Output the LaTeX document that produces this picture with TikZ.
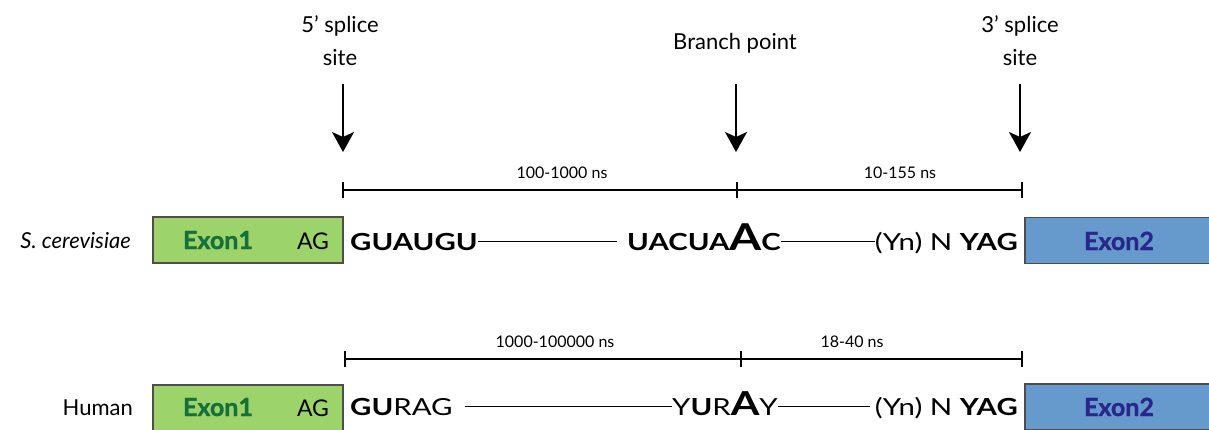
\documentclass[tikz,border=0pt]{standalone}
\usepackage{fontspec}
\setmainfont{Lato}
\newfontfamily\seqfont[FakeStretch=1.25]{Lato}
\newfontfamily\exfont[BoldFeatures={FakeBold=1.2}]{Lato}
\usetikzlibrary{arrows.meta}
\definecolor{exgreen}{HTML}{9DD36B}
\definecolor{exgreentext}{HTML}{16703A}
\definecolor{exblue}{HTML}{6699CC}
\definecolor{exbluetext}{HTML}{2A278A}
\definecolor{boxline}{HTML}{4D4D4D}
\newcommand{\bigA}[1]{{\bfseries\fontsize{#1}{#1}\selectfont A}}
\begin{document}
\begin{tikzpicture}[x=1pt,y=-1pt,
  lbl/.style={inner sep=0pt, font=\fontsize{22}{33}\selectfont, align=center},
  arr/.style={line width=2pt, -{Stealth[length=20pt,width=22pt,inset=5pt]}},
  scl/.style={line width=1.8pt},
  tck/.style={line width=1.8pt},
  dlbl/.style={inner sep=0pt, font=\fontsize{16}{16}\selectfont},
  seq/.style={inner sep=0pt, font=\seqfont\fontsize{23.5}{23.5}\selectfont},
  seqline/.style={line width=1.8pt},
  sp/.style={inner sep=0pt, font=\fontsize{22}{22}\selectfont, anchor=base east},
  exon1box/.style={draw=boxline, line width=1.5pt, fill=exgreen, minimum width=190pt, minimum height=46pt, inner sep=0pt},
  exon2box/.style={draw=boxline, line width=1.5pt, fill=exblue, minimum width=200pt, minimum height=46pt, inner sep=0pt},
  ex1txt/.style={inner sep=0pt, text=exgreentext, font=\exfont\bfseries\fontsize{25}{25}\selectfont, anchor=base},
  ex2txt/.style={inner sep=0pt, text=exbluetext, font=\exfont\bfseries\fontsize{25}{25}\selectfont, anchor=base},
  agtxt/.style={inner sep=0pt, font=\fontsize{23}{23}\selectfont, anchor=base}
]
\useasboundingbox (0,0) rectangle (1209,429);

% top labels and arrows
\node[lbl] (l5) at (340,41) {5’ splice\\site};
\node[lbl] (lbp) at (735,43) {Branch point};
\node[lbl] (l3) at (1020,41) {3’ splice\\site};
\coordinate (a5s) at (343,84);  \coordinate (a5e) at (343,152);
\coordinate (abs) at (736,84);  \coordinate (abe) at (736,152);
\coordinate (a3s) at (1020,84); \coordinate (a3e) at (1020,152);
\draw[arr] (a5s) -- (a5e);
\draw[arr] (abs) -- (abe);
\draw[arr] (a3s) -- (a3e);

% scale row 1
\coordinate (t1a) at (343,190); \coordinate (t1b) at (737,190); \coordinate (t1c) at (1022,190);
\draw[scl] (t1a) -- (t1b) -- (t1c);
\foreach \p in {t1a,t1b,t1c} \draw[tck] (\p) ++(0,-8) -- ++(0,16);
\node[dlbl] (d1) at (562,173) {100-1000 ns};
\node[dlbl] (d2) at (900,173) {10-155 ns};

% row 1
\node[sp] (sc) at (131,248) {\itshape S. cerevisiae};
\node[exon1box] (b1) at (248,240) {};
\node[ex1txt] (b1t) at (218,249) {Exon1};
\node[agtxt] (b1ag) at (313,249) {AG};
\node[exon2box] (b2) at (1125,240.5) {};
\node[ex2txt] (b2t) at (1119,250) {Exon2};
\node[seq, anchor=base west] (gu1) at (350,250) {\bfseries GUAUGU};
\node[seq, anchor=base west] (ua1) at (627,250) {\bfseries UACUA\bigA{37}C};
\node[seq, anchor=base east] (yn1) at (1018,250) {(Yn) N \textbf{YAG}};
\draw[seqline] (gu1.east) -- (gu1.east -| ua1.west) [shorten >=10pt];
\draw[seqline] (ua1.east |- gu1.east) -- (yn1.west |- gu1.east);

% scale row 2
\coordinate (t2a) at (345,359); \coordinate (t2b) at (741,359); \coordinate (t2c) at (1022,359);
\draw[scl] (t2a) -- (t2b) -- (t2c);
\foreach \p in {t2a,t2b,t2c} \draw[tck] (\p) ++(0,-8) -- ++(0,16);
\node[dlbl] (d3) at (555,342) {1000-100000 ns};
\node[dlbl] (d4) at (852,342) {18-40 ns};

% row 2
\node[sp] (hu) at (133,415) {Human};
\node[exon1box] (b3) at (248,408) {};
\node[ex1txt] (b3t) at (218,416) {Exon1};
\node[agtxt] (b3ag) at (313,416) {AG};
\node[exon2box] (b4) at (1125,407) {};
\node[ex2txt] (b4t) at (1119,416) {Exon2};
\node[seq, anchor=base west] (gu2) at (350,415) {\textbf{GU}RAG};
\node[seq, anchor=base west] (yu2) at (672,415) {Y\textbf{U}R\bigA{33}Y};
\node[seq, anchor=base east] (yn2) at (1018,415) {(Yn) N \textbf{YAG}};
\draw[seqline] (gu2.east) -- (gu2.east -| yu2.west) [shorten <=12pt];
\draw[seqline] (yu2.east |- gu2.east) -- (yn2.west |- gu2.east) [shorten >=5pt];
\end{tikzpicture}
\end{document}
